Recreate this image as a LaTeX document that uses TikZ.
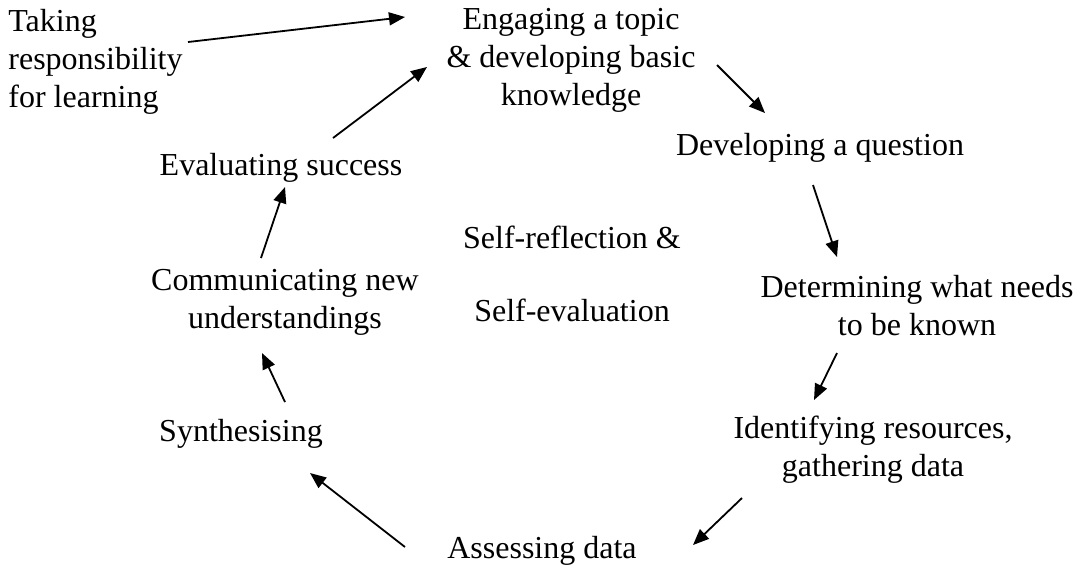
\documentclass[tikz,border=0pt]{standalone}
\usepackage{fontspec}
\setmainfont{Liberation Serif}
\usetikzlibrary{arrows.meta}

\begin{document}
\begin{tikzpicture}[x=0.5pt, y=-0.5pt,
    stage/.style={inner sep=0pt, align=center,
                  font=\fontsize{16pt}{19pt}\selectfont},
    flow/.style={-{Triangle[length=8pt, width=6.5pt]}, line width=0.9pt}]
    \useasboundingbox (0,0) rectangle (1080,570);

    % stages of the cycle
    \node[stage, align=left, anchor=west] (take) at (8,62)
        {Taking\\responsibility\\for learning};
    \node[stage] (engage)   at (571,60)  {Engaging a topic\\\& developing basic\\knowledge};
    \node[stage] (question) at (820,148) {Developing a question};
    \node[stage] (needs)    at (917,306) {Determining what needs\\to be known};
    \node[stage] (gather)   at (873,450) {Identifying resources,\\gathering data};
    \node[stage] (assess)   at (542,551) {Assessing data};
    \node[stage] (synth)    at (241,434) {Synthesising};
    \node[stage] (comm)     at (285,302) {Communicating new\\understandings};
    \node[stage] (eval)     at (281,168) {Evaluating success};
    \node[stage] (reflect)  at (572,274) {Self-reflection \&\\[17.5pt]Self-evaluation};

    % arrow ends
    \coordinate (take-a)     at (188,42);  \coordinate (take-b)     at (405,17);
    \coordinate (engage-a)   at (717,65);  \coordinate (engage-b)   at (765,113);
    \coordinate (question-a) at (813,185); \coordinate (question-b) at (837,257);
    \coordinate (needs-a)    at (837,353); \coordinate (needs-b)    at (814,400);
    \coordinate (gather-a)   at (742,498); \coordinate (gather-b)   at (693,545);
    \coordinate (assess-a)   at (405,547); \coordinate (assess-b)   at (310,473);
    \coordinate (synth-a)    at (285,402); \coordinate (synth-b)    at (262,353);
    \coordinate (comm-a)     at (261,258); \coordinate (comm-b)     at (285,187);
    \coordinate (eval-a)     at (333,138); \coordinate (eval-b)     at (427,67);

    \foreach \s in {take,engage,question,needs,gather,assess,synth,comm,eval}
        \draw[flow] (\s-a) -- (\s-b);
\end{tikzpicture}
\end{document}
